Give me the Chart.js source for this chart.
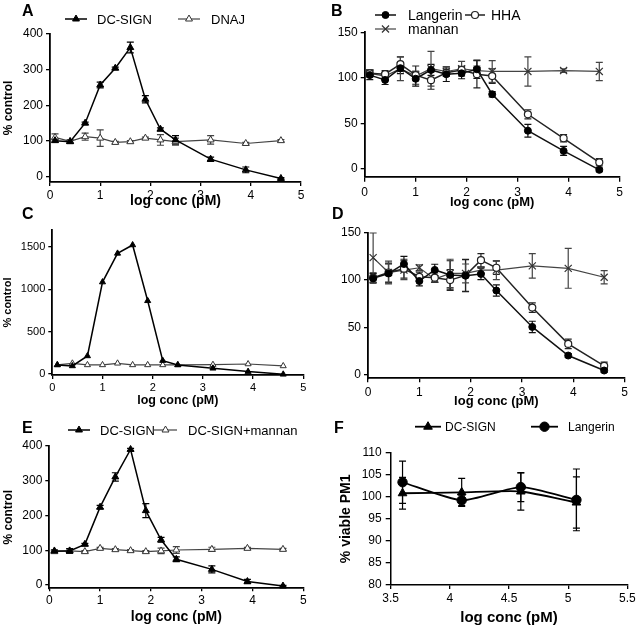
<!DOCTYPE html>
<html>
<head>
<meta charset="utf-8">
<script src="https://cdn.jsdelivr.net/npm/chart.js@4.4.1/dist/chart.umd.min.js"></script>
<style>
  body { margin: 0; background: #fff; }
  #fig { position: relative; width: 638px; height: 628px; overflow: hidden; font-family: "Liberation Sans", Arial, sans-serif; }
  #fig canvas { position: absolute; }
  .tag { position: absolute; font-weight: bold; font-size: 16px; line-height: 16px; color: #000; }
</style>
</head>
<body>
<div id="fig">
  <canvas id="chartA" width="318" height="210" style="left:0px;top:0px"></canvas>
  <canvas id="chartB" width="320" height="210" style="left:318px;top:0px"></canvas>
  <canvas id="chartC" width="318" height="210" style="left:0px;top:205px"></canvas>
  <canvas id="chartD" width="320" height="210" style="left:318px;top:205px"></canvas>
  <canvas id="chartE" width="318" height="213" style="left:0px;top:415px"></canvas>
  <canvas id="chartF" width="320" height="213" style="left:318px;top:415px"></canvas>
  <div class="tag" style="left:22px;top:3px">A</div>
  <div class="tag" style="left:331px;top:3px">B</div>
  <div class="tag" style="left:22px;top:206px">C</div>
  <div class="tag" style="left:332px;top:206px">D</div>
  <div class="tag" style="left:22px;top:420px">E</div>
  <div class="tag" style="left:334px;top:420px">F</div>
</div>
<script>
// x values (log conc, pM) shared by panels A-E
const logConc = [0.1, 0.4, 0.7, 1.0, 1.3, 1.6, 1.9, 2.2, 2.5, 3.2, 3.9, 4.6];

// panel A
const aDcSign = [101, 98, 150, 257, 304, 362, 217, 133, 103, 49, 19, -5];
const aDcSignErr = [4, 3, 3, 8, 3, 15, 10, 4, 12, 6, 8, 2];
const aDnaj = [110, 99, 112, 108, 96, 98, 108, 103, 98, 103, 93, 101];
const aDnajErr = [10, 5, 10, 23, 3, 3, 3, 15, 10, 12, 3, 3];

// panel B
const bLangerin = [103, 97.7, 110.6, 99, 108.7, 104, 105, 109.4, 82, 42, 19.8, -1];
const bLangerinErr = [5, 5, 6, 8, 6, 8, 6, 10, 3, 7, 5, 2];
const bHha = [105, 104, 115, 103, 97.5, 105.5, 108.6, 104, 102, 60, 33.7, 7.3];
const bHhaErr = [4, 4, 8, 10, 10, 4, 4, 15, 8, 5, 4, 4];
const bMannan = [105, 102, 110, 102, 110, 107, 110, 108, 107, 107, 108, 107];
const bMannanErr = [4, 4, 13, 5, 19, 5, 8, 5, 12, 16, 2, 10];

// panel C
const cDcSign = [107, 95, 213, 1085, 1424, 1523, 864, 158, 107, 67, 28, -4];
const cDnaj = [107, 126, 107, 107, 126, 107, 107, 107, 107, 110, 118, 95];

// panel D
const dLangerin = [101.8, 107, 117, 99, 110.7, 105.4, 104.7, 106.5, 89, 50.6, 20.4, 4.6];
const dLangerinErr = [5, 10, 8, 5, 6, 15, 17, 6, 6, 6, 2, 2];
const dHha = [102.6, 108, 112, 103.5, 102.5, 100, 105, 121, 113, 71, 32.7, 9.5];
const dHhaErr = [5, 10, 10, 5, 5, 11, 17, 7, 7, 5, 5, 4];
const dMannan = [123.7, 108, 110.5, 113, 101, 107, 107, 110.5, 110.5, 115, 112.4, 103];
const dMannanErr = [26, 12, 10, 3, 3, 15, 10, 3, 10, 13, 21, 7];

// panel E
const eDcSign = [98, 98, 117, 224, 311, 390, 214, 130, 74, 45, 10, -3];
const eDcSignErr = [3, 7, 3, 5, 12, 3, 20, 7, 7, 10, 6, 2];
const eMannan = [96, 98, 96, 105.5, 101.7, 98.8, 96, 98, 100.7, 102.6, 105.5, 102.6];
const eMannanErr = [3, 3, 3, 3, 3, 3, 3, 8, 10, 6, 3, 3];

// panel F
const fConc = [3.6, 4.1, 4.6, 5.07];
const fDcSign = [100.8, 101, 101.2, 98.7];
const fDcSignErr = [3.6, 3.2, 4.2, 5.8];
const fLangerin = [103.3, 99.2, 102.2, 99.3];
const fLangerinErr = [4.8, 1.2, 3.3, 7];

// tick labels
const concTicks = [0, 1, 2, 3, 4, 5];
const ticks400 = [0, 100, 200, 300, 400];
const ticks150 = [0, 50, 100, 150];
const ticks1500 = [0, 500, 1000, 1500];
const fConcTicks = [3.5, 4, 4.5, 5, 5.5];
const fViableTicks = [80, 85, 90, 95, 100, 105, 110];

const FONT = "'Liberation Sans', Arial, sans-serif";

// marker styles
const filledTri = { pointStyle: 'triangle', pointRadius: 4, borderColor: '#000', pointBackgroundColor: '#000', pointBorderColor: '#000' };
const openTri = { pointStyle: 'triangle', pointRadius: 4, borderColor: '#444', pointBackgroundColor: '#fff', pointBorderColor: '#333', borderWidth: 1.2 };
const filledDot = { pointStyle: 'circle', pointRadius: 3.5, borderColor: '#111', pointBackgroundColor: '#000', pointBorderColor: '#000' };
const openDot = { pointStyle: 'circle', pointRadius: 3.5, borderColor: '#222', pointBackgroundColor: '#fff', pointBorderColor: '#222', pointBorderWidth: 1.2 };
const cross = { pointStyle: 'crossRot', pointRadius: 5, borderColor: '#444', pointBackgroundColor: '#444', pointBorderColor: '#333', pointBorderWidth: 1.2, borderWidth: 1.2 };

function series(label, xs, ys, errs, style, extra) {
  return Object.assign({
    label: label,
    data: xs.map((x, i) => ({ x: x, y: ys[i] })),
    errors: errs,
    borderWidth: 1.5,
    pointBorderWidth: 1,
    tension: 0,
    fill: false,
    clip: false
  }, style, extra || {});
}

// vertical error bars with caps, drawn under the markers
const errorBars = {
  id: 'errorBars',
  beforeDatasetsDraw(chart) {
    const ctx = chart.ctx;
    const x = chart.scales.x, y = chart.scales.y;
    chart.data.datasets.forEach((ds) => {
      if (!ds.errors) return;
      ctx.save();
      ctx.strokeStyle = ds.borderColor;
      ctx.lineWidth = 1.2;
      ds.data.forEach((pt, j) => {
        const e = ds.errors[j];
        if (!e) return;
        const px = x.getPixelForValue(pt.x);
        const top = y.getPixelForValue(pt.y + e);
        const bot = y.getPixelForValue(pt.y - e);
        const cap = ds.capWidth || 3.5;
        ctx.beginPath();
        ctx.moveTo(px, top); ctx.lineTo(px, bot);
        ctx.moveTo(px - cap, top); ctx.lineTo(px + cap, top);
        ctx.moveTo(px - cap, bot); ctx.lineTo(px + cap, bot);
        ctx.stroke();
      });
      ctx.restore();
    });
  }
};

// legend entries drawn as a line segment with the marker on it
const lineLegend = {
  id: 'lineLegend',
  afterDraw(chart, args, opts) {
    const ctx = chart.ctx;
    (opts.items || []).forEach((item) => {
      const ds = chart.data.datasets[item.ds];
      ctx.save();
      ctx.strokeStyle = ds.borderColor;
      ctx.lineWidth = ds.borderWidth;
      ctx.beginPath();
      ctx.moveTo(item.x, item.y);
      ctx.lineTo(item.x + item.len, item.y);
      ctx.stroke();
      ctx.fillStyle = ds.pointBackgroundColor;
      ctx.strokeStyle = ds.pointBorderColor;
      ctx.lineWidth = ds.pointBorderWidth;
      Chart.helpers.drawPoint(ctx, {
        pointStyle: ds.pointStyle, radius: ds.pointRadius, borderWidth: ds.pointBorderWidth, rotation: 0
      }, item.x + item.len / 2, item.y);
      ctx.fillStyle = '#000';
      ctx.font = opts.size + 'px ' + FONT;
      ctx.textBaseline = 'middle';
      ctx.textAlign = 'left';
      ctx.fillText(ds.label, item.textX, item.y + 1);
      ctx.restore();
    });
  }
};

function makePanel(id, p) {
  return new Chart(document.getElementById(id), {
    type: 'line',
    data: { datasets: p.datasets },
    options: {
      responsive: false,
      animation: false,
      layout: { padding: p.pad },
      plugins: {
        legend: { display: false },
        tooltip: { enabled: false },
        lineLegend: { items: p.legend || [], size: p.legendSize || 13 }
      },
      scales: {
        x: {
          type: 'linear',
          min: p.xMin, max: p.xMax,
          afterBuildTicks: (s) => { s.ticks = p.xTicks.map((v) => ({ value: v })); },
          afterFit: (s) => { s.height = p.xH; s.paddingLeft = 0; s.paddingRight = 0; },
          grid: { display: true, drawOnChartArea: false, drawTicks: true, tickLength: p.xTickLen, color: '#000', lineWidth: 1.3 },
          border: { display: true, color: '#000', width: p.axisW || 1.8 },
          ticks: {
            color: '#000', font: { family: FONT, size: p.tickSize }, padding: p.xTickPad,
            maxRotation: 0, autoSkip: false, callback: (v) => String(v)
          },
          title: {
            display: true, text: 'log conc (pM)', color: '#000', padding: 0,
            font: { family: FONT, size: p.xTitleSize, weight: 'bold' }
          }
        },
        y: {
          type: 'linear',
          min: p.yMin, max: p.yMax,
          afterBuildTicks: (s) => { s.ticks = p.yTicks.map((v) => ({ value: v })); },
          afterFit: (s) => { s.width = p.yW; s.paddingTop = 0; s.paddingBottom = 0; },
          grid: { display: true, drawOnChartArea: false, drawTicks: true, tickLength: p.yTickLen || 4, color: '#000', lineWidth: 1.3 },
          border: { display: true, color: '#000', width: p.axisW || 1.8 },
          ticks: {
            color: '#000', font: { family: FONT, size: p.tickSize }, padding: p.yTickPad || 3,
            autoSkip: false, callback: (v) => String(v)
          },
          title: {
            display: !!p.yTitle, text: p.yTitle || '', color: '#000',
            padding: { top: p.yTitlePad || 1, bottom: 0 },
            font: { family: FONT, size: p.yTitleSize || 12, weight: 'bold' }
          }
        }
      }
    },
    plugins: [errorBars, lineLegend]
  });
}

makePanel('chartA', {
  datasets: [
    series('DC-SIGN', logConc, aDcSign, aDcSignErr, filledTri),
    series('DNAJ', logConc, aDnaj, aDnajErr, openTri)
  ],
  xMin: 0, xMax: 5, xTicks: concTicks, yMin: -15, yMax: 400, yTicks: ticks400,
  pad: { left: 0, top: 34, right: 17, bottom: 0 }, yW: 50, xH: 28,
  tickSize: 12, xTickLen: 4, xTickPad: 2, xTitleSize: 14, yTitle: '% control', yTitleSize: 12,
  legendSize: 13,
  legend: [{ ds: 0, x: 65, len: 22, y: 19, textX: 97 }, { ds: 1, x: 178, len: 22, y: 19, textX: 211 }]
});

makePanel('chartB', {
  datasets: [
    series('Langerin', logConc, bLangerin, bLangerinErr, filledDot),
    series('HHA', logConc, bHha, bHhaErr, openDot),
    series('mannan', logConc, bMannan, bMannanErr, cross)
  ],
  xMin: 0, xMax: 5, xTicks: concTicks, yMin: -8.5, yMax: 150, yTicks: ticks150,
  pad: { left: 0, top: 32.3, right: 18.3, bottom: 0 }, yW: 46.7, xH: 33.3,
  tickSize: 12, xTickLen: 5, xTickPad: 4, xTitleSize: 13,
  legendSize: 14,
  legend: [
    { ds: 0, x: 57, len: 21, y: 15, textX: 90 },
    { ds: 1, x: 147, len: 20, y: 15, textX: 173 },
    { ds: 2, x: 57, len: 21, y: 29, textX: 90 }
  ]
});

makePanel('chartC', {
  datasets: [
    series('DC-SIGN', logConc, cDcSign, null, filledTri, { pointRadius: 3.5 }),
    series('DNAJ', logConc, cDnaj, null, openTri, { pointRadius: 3.5 })
  ],
  xMin: 0, xMax: 5, xTicks: concTicks, yMin: -12, yMax: 1700, yTicks: ticks1500,
  pad: { left: 0, top: 25, right: 14.7, bottom: 7 }, yW: 52.3, xH: 33,
  tickSize: 11, xTickLen: 4, xTickPad: 2, xTitleSize: 12.5, yTitle: '% control', yTitleSize: 11
});

makePanel('chartD', {
  datasets: [
    series('Langerin', logConc, dLangerin, dLangerinErr, filledDot),
    series('HHA', logConc, dHha, dHhaErr, openDot),
    series('mannan', logConc, dMannan, dMannanErr, cross)
  ],
  xMin: 0, xMax: 5, xTicks: concTicks, yMin: -3.5, yMax: 150, yTicks: ticks150,
  pad: { left: 0, top: 27.7, right: 13.3, bottom: 5.8 }, yW: 50, xH: 31,
  tickSize: 12, xTickLen: 4, xTickPad: 3, xTitleSize: 13
});

makePanel('chartE', {
  datasets: [
    series('DC-SIGN', logConc, eDcSign, eDcSignErr, filledTri),
    series('DC-SIGN+mannan', logConc, eMannan, eMannanErr, openTri)
  ],
  xMin: 0, xMax: 5, xTicks: concTicks, yMin: -9.5, yMax: 400, yTicks: ticks400,
  pad: { left: 0, top: 31, right: 14.7, bottom: 2.9 }, yW: 49.3, xH: 36.8,
  tickSize: 12, xTickLen: 3, xTickPad: 2, xTitleSize: 14, yTitle: '% control', yTitleSize: 12,
  legendSize: 13,
  legend: [{ ds: 0, x: 68, len: 22, y: 15, textX: 100 }, { ds: 1, x: 154, len: 23, y: 15, textX: 188 }]
});

makePanel('chartF', {
  datasets: [
    series('DC-SIGN', fConc, fDcSign, fDcSignErr, filledTri, { pointRadius: 5, borderWidth: 1.8, tension: 0.2 }),
    series('Langerin', fConc, fLangerin, fLangerinErr, filledDot, { pointRadius: 4.7, borderWidth: 1.8, tension: 0.2, borderColor: '#000' })
  ],
  xMin: 3.5, xMax: 5.5, xTicks: fConcTicks, yMin: 80, yMax: 110, yTicks: fViableTicks,
  pad: { left: 0, top: 37.7, right: 10.7, bottom: 0.7 }, yW: 72.7, xH: 42.3,
  tickSize: 12, xTickLen: 4, xTickPad: 2, yTickLen: 5, yTickPad: 4, axisW: 1.5,
  xTitleSize: 15, yTitle: '% viable PM1', yTitleSize: 14, yTitlePad: 19.6,
  legendSize: 12,
  legend: [{ ds: 0, x: 97, len: 26, y: 11.7, textX: 127 }, { ds: 1, x: 213, len: 27, y: 11.7, textX: 250 }]
});
</script>
</body>
</html>
